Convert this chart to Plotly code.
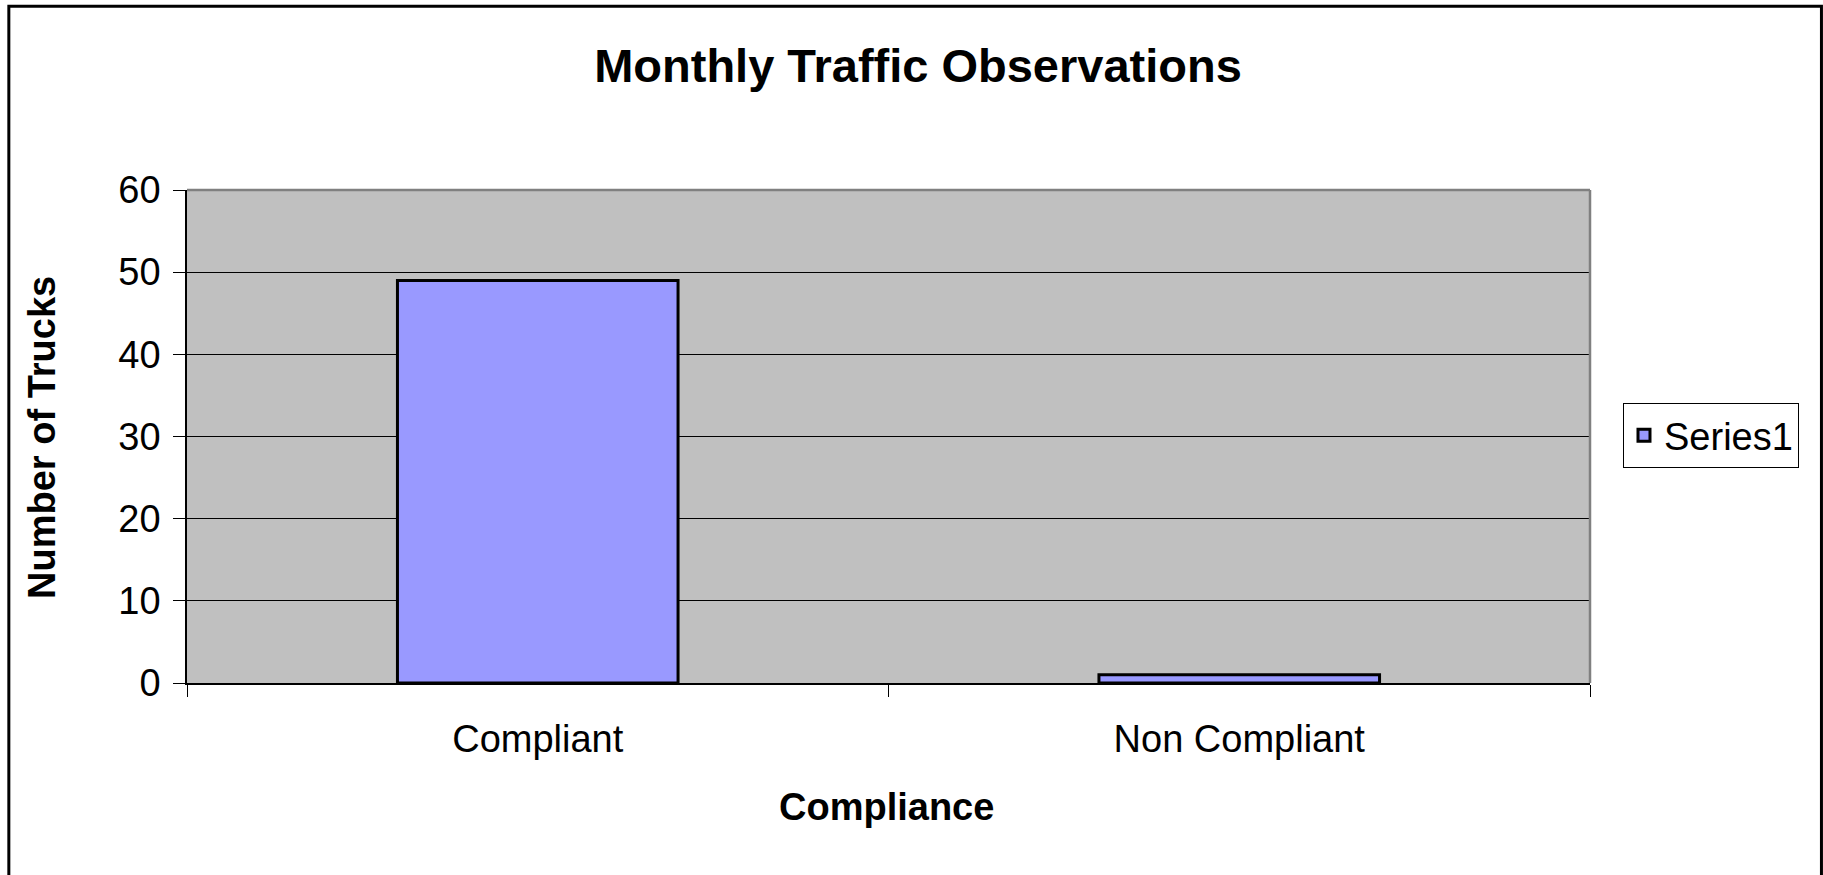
import plotly.graph_objects as go

# Data
categories = ["Compliant", "Non Compliant"]
series1_values = [49, 1]
series_name = "Series1"
y_tick_values = [0, 10, 20, 30, 40, 50, 60]

W, H = 1823, 875
L, R, T, B = 186.7, 1590.0, 189.5, 683.3  # plot area in pixels
PW, PH = R - L, B - T


def px(x):
    return (x - L) / PW


def py(y):
    return (B - y) / PH


FONT = "Liberation Sans, Arial, sans-serif"

fig = go.Figure()
fig.add_trace(go.Bar(
    x=categories,
    y=series1_values,
    name=series_name,
    marker=dict(color="#9999FF", line=dict(color="#000000", width=3)),
    showlegend=True,
))

fig.update_layout(
    width=W,
    height=H,
    margin=dict(l=L, r=W - R, t=T, b=H - B, pad=0),
    paper_bgcolor="#FFFFFF",
    plot_bgcolor="#C0C0C0",
    font=dict(family=FONT, size=38, color="#000000"),
    bargap=0.6,
    title=dict(
        text="<b>Monthly Traffic Observations</b>",
        x=918 / W, xanchor="center",
        y=1 - 66 / H, yanchor="middle",
        xref="container", yref="container",
        font=dict(family=FONT, size=47, color="#000000"),
    ),
    xaxis=dict(
        type="category",
        showline=True, linecolor="#000000", linewidth=1.5,
        ticks="outside", tickson="boundaries", ticklen=12,
        tickcolor="#000000", tickwidth=1,
        ticklabelstandoff=22,
        showgrid=False,
        tickfont=dict(family=FONT, size=38),
    ),
    yaxis=dict(
        range=[0, 60],
        tickvals=y_tick_values,
        showline=True, linecolor="#000000", linewidth=1.5,
        ticks="outside", ticklen=12, tickcolor="#000000", tickwidth=1,
        ticklabelstandoff=5,
        showgrid=True, gridcolor="#000000", gridwidth=1,
        zeroline=False,
        tickfont=dict(family=FONT, size=38),
    ),
    legend=dict(
        x=px(1623), xanchor="left",
        y=py(403), yanchor="top",
        bgcolor="#FFFFFF", bordercolor="#000000", borderwidth=1,
        font=dict(family=FONT, size=38),
    ),
    annotations=[
        dict(text="<b>Number of Trucks</b>", xref="paper", yref="paper",
             x=px(41), y=py((273 + 602) / 2), xanchor="center", yanchor="middle",
             textangle=-90, showarrow=False, font=dict(family=FONT, size=38)),
        dict(text="<b>Compliance</b>", xref="paper", yref="paper",
             x=px(886), y=py(808), xanchor="center", yanchor="middle",
             showarrow=False, font=dict(family=FONT, size=38)),
    ],
    shapes=[
        # plot area border (top and right) in gray
        dict(type="line", xref="paper", yref="paper", x0=0, x1=1, y0=1, y1=1,
             line=dict(color="#808080", width=2.5), layer="above"),
        dict(type="line", xref="paper", yref="paper", x0=1, x1=1, y0=0, y1=1,
             line=dict(color="#808080", width=2.5), layer="above"),
        # chart frame
        dict(type="rect", xref="paper", yref="paper",
             x0=px(8.5), x1=px(1821.5), y0=py(885), y1=py(5.5),
             line=dict(color="#000000", width=3), layer="above"),
    ],
)

fig.write_html(
    "out.html",
    config={"displayModeBar": False},
    post_script="document.body.style.margin='0';document.body.style.overflow='hidden';",
)
